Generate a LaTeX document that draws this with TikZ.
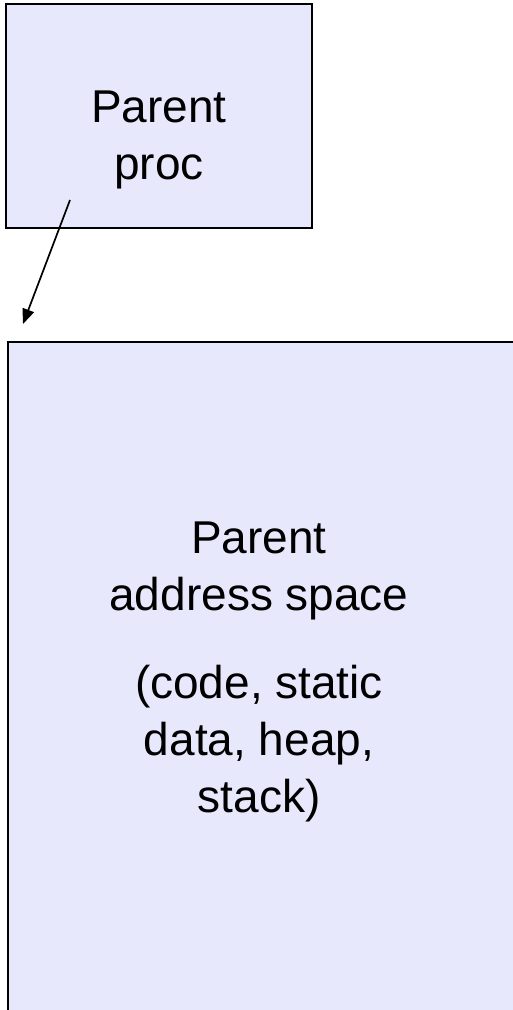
\documentclass[tikz,border=0pt]{standalone}
\usepackage{fontspec}
\setmainfont{Liberation Sans}
\usetikzlibrary{arrows.meta}
\definecolor{boxfill}{RGB}{232,232,252}
\begin{document}
\begin{tikzpicture}[x=1pt,y=-1pt,
  procbox/.style={draw=black,line width=2pt,fill=boxfill,rectangle,inner sep=0pt},
  lbl/.style={align=center,font=\fontsize{46}{57}\selectfont},
  ptr/.style={draw=black,line width=1.7pt,-{Triangle[length=15pt,width=12pt]}}]
\useasboundingbox (0,0) rectangle (513,1010);
\begin{scope}
\clip (0,0) rectangle (513,1010);
\node[procbox,minimum width=306pt,minimum height=224pt] (proc) at (159,116) {};
\node[lbl] (proclbl) at (159,140) {Parent\\proc};
\node[procbox,minimum width=520pt,minimum height=700pt,anchor=north west] (space) at (7,341) {};
\node[lbl] (spacelbl) at (259,672) {Parent\\address space\\[31pt](code, static\\data, heap,\\stack)};
\coordinate (start) at (70,200);
\coordinate (tip) at (23,324);
\draw[ptr] (start) -- (tip);
\end{scope}
\end{tikzpicture}
\end{document}
